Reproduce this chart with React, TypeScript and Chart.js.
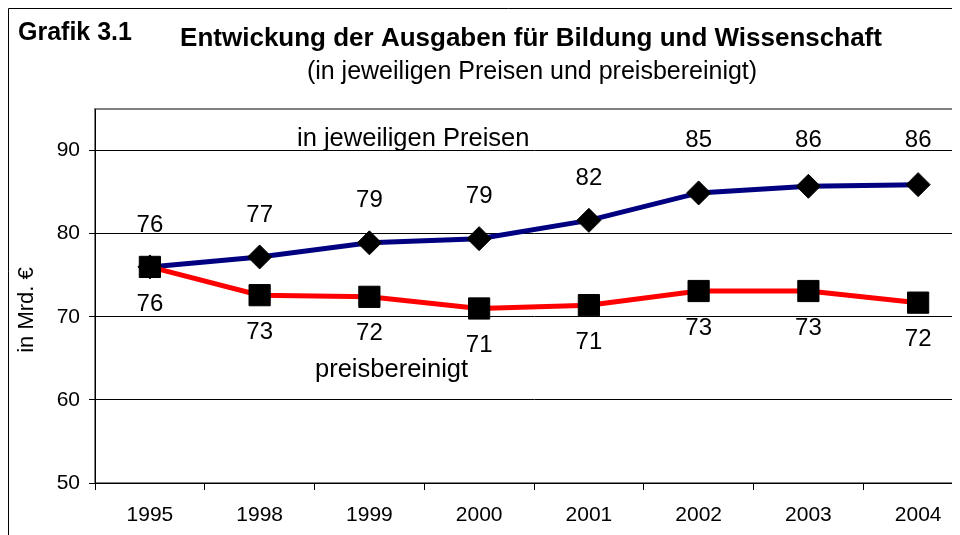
import React, { useEffect, useRef } from 'react';
import { Chart, registerables } from 'chart.js';

Chart.register(...registerables);

// ---- data ----
const years = ['1995', '1998', '1999', '2000', '2001', '2002', '2003', '2004'];
const nominal = [76.0, 77.2, 78.9, 79.4, 81.6, 84.9, 85.7, 85.9]; // in jeweiligen Preisen
const real = [76.0, 72.6, 72.4, 71.0, 71.4, 73.1, 73.1, 71.7]; // preisbereinigt
const nominalLabels = [76, 77, 79, 79, 82, 85, 86, 86];
const realLabels = [76, 73, 72, 71, 71, 73, 73, 72];
const yTicks = [50, 60, 70, 80, 90];
const yMin = 50;
const yMax = 95;

const FONT = '"Liberation Sans", Arial, Helvetica, sans-serif';

const decorPlugin = {
  id: 'decor',
  beforeDraw(chart: any) {
    const { ctx, chartArea: a } = chart;
    ctx.save();
    ctx.fillStyle = '#ffffff';
    ctx.fillRect(0, 0, chart.width, chart.height);
    // outer frame
    ctx.strokeStyle = '#000000';
    ctx.lineWidth = 1;
    ctx.beginPath();
    ctx.moveTo(0.5, chart.height);
    ctx.lineTo(0.5, 0.5);
    ctx.lineTo(chart.width, 0.5);
    ctx.stroke();
    // plot area frame
    ctx.strokeStyle = '#808080';
    ctx.lineWidth = 2;
    ctx.strokeRect(a.left, a.top, a.right - a.left, a.bottom - a.top);
    ctx.restore();
  },
  afterDatasetsDraw(chart: any) {
    const { ctx } = chart;
    const yScale = chart.scales.y;
    const gridY = yScale.getPixelForValue(90);
    ctx.save();
    ctx.fillStyle = '#000';
    ctx.font = `24px ${FONT}`;
    ctx.textAlign = 'center';
    ctx.textBaseline = 'middle';
    chart.data.datasets.forEach((ds: any, di: number) => {
      const meta = chart.getDatasetMeta(di);
      meta.data.forEach((pt: any, i: number) => {
        const lbl = ds.valueLabels[i];
        let y;
        if (ds.labelPos === 'below') {
          y = pt.y + 37;
        } else {
          y = pt.y - 42;
          // keep labels clear of the 90 gridline
          if (y < gridY + 12) y = Math.min(y, gridY - 10);
        }
        ctx.fillText(String(lbl), pt.x, y);
      });
    });
    ctx.restore();
  },
  afterDraw(chart: any) {
    const { ctx, chartArea: a } = chart;
    ctx.save();
    ctx.fillStyle = '#000';
    ctx.textBaseline = 'alphabetic';
    // Grafik 3.1
    ctx.textAlign = 'left';
    ctx.font = `bold 25px ${FONT}`;
    ctx.fillText('Grafik 3.1', 10, 32);
    // title
    ctx.textAlign = 'center';
    ctx.font = `bold 26px ${FONT}`;
    ctx.fillText('Entwickung der Ausgaben für Bildung und Wissenschaft', 523, 38);
    ctx.font = `25px ${FONT}`;
    ctx.fillText('(in jeweiligen Preisen und preisbereinigt)', 524, 71);
    // series labels
    ctx.textAlign = 'left';
    ctx.font = `25.5px ${FONT}`;
    ctx.fillText('in jeweiligen Preisen', a.left + 202, 138);
    ctx.fillText('preisbereinigt', a.left + 220, 369);
    // y axis title
    ctx.save();
    ctx.translate(19, 302);
    ctx.rotate(-Math.PI / 2);
    ctx.textAlign = 'center';
    ctx.textBaseline = 'middle';
    ctx.font = `22px ${FONT}`;
    ctx.fillText('in Mrd. €', 0, 0);
    ctx.restore();
    ctx.restore();
  },
};

export default function App() {
  const ref = useRef<HTMLCanvasElement | null>(null);
  useEffect(() => {
    if (!ref.current) return;
    const chart = new Chart(ref.current, {
      type: 'line',
      data: {
        labels: years,
        datasets: [
          {
            label: 'preisbereinigt',
            data: real,
            valueLabels: realLabels,
            labelPos: 'below',
            borderColor: '#FF0000',
            borderWidth: 5,
            tension: 0,
            pointStyle: 'rect',
            pointRadius: 15,
            pointBackgroundColor: '#000',
            pointBorderColor: '#000',
            pointBorderWidth: 1,
            fill: false,
          } as any,
          {
            label: 'in jeweiligen Preisen',
            data: nominal,
            valueLabels: nominalLabels,
            labelPos: 'above',
            borderColor: '#000080',
            borderWidth: 5,
            tension: 0,
            pointStyle: 'rectRot',
            pointRadius: 12,
            pointBackgroundColor: '#000',
            pointBorderColor: '#000',
            pointBorderWidth: 1,
            fill: false,
          } as any,
        ],
      },
      options: {
        animation: false,
        responsive: false,
        events: [],
        layout: { padding: { top: 101, left: 0, right: 35, bottom: 0 } },
        plugins: {
          legend: { display: false },
          tooltip: { enabled: false },
          title: { display: false },
        },
        scales: {
          x: {
            type: 'category',
            offset: true,
            grid: { offset: true, drawOnChartArea: false, drawTicks: true, tickLength: 7, color: '#000' },
            border: { color: '#000', width: 1 },
            ticks: { color: '#000', font: { family: FONT, size: 21 }, padding: 13, maxRotation: 0, autoSkip: false },
            afterFit: (s: any) => {
              s.height = 52;
            },
          },
          y: {
            min: yMin,
            max: yMax,
            ticks: { stepSize: 10, color: '#000', font: { family: FONT, size: 21 }, padding: 9 },
            afterBuildTicks: (s: any) => {
              s.ticks = yTicks.map((v) => ({ value: v }));
            },
            grid: { color: '#000', tickLength: 6, drawTicks: true, lineWidth: 1 },
            border: { color: '#000', width: 1 },
            afterFit: (s: any) => {
              s.width = 87;
            },
          },
        },
      } as any,
      plugins: [decorPlugin],
    });
    return () => chart.destroy();
  }, []);
  return (
    <div style={{ width: 952, height: 527, overflow: 'hidden' }}>
      <canvas ref={ref} width={1000} height={527} style={{ display: 'block' }} />
    </div>
  );
}
